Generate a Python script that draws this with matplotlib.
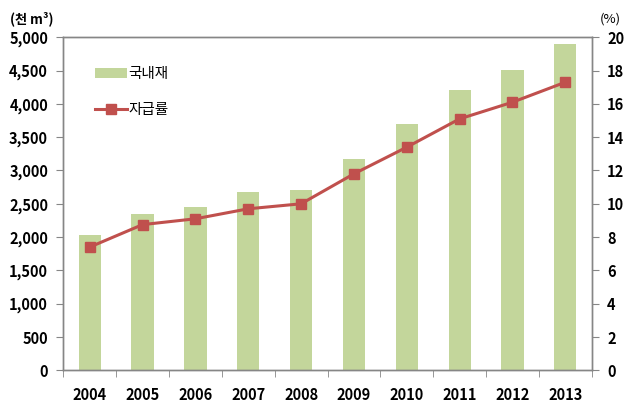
import matplotlib
matplotlib.use("Agg")
import matplotlib.pyplot as plt
import numpy as np
from matplotlib.ticker import FuncFormatter, FixedLocator

plt.rcParams['font.family'] = ['Noto Sans CJK KR', 'DejaVu Sans']

years = ["2004", "2005", "2006", "2007", "2008", "2009", "2010", "2011", "2012", "2013"]
domestic = [2025, 2340, 2445, 2670, 2700, 3170, 3705, 4205, 4505, 4895]
self_rate = [7.4, 8.75, 9.1, 9.7, 10.0, 11.8, 13.4, 15.1, 16.1, 17.3]

bar_color = "#C3D69B"
line_color = "#C0504D"
spine_color = "#868686"

fig = plt.figure(figsize=(6.37, 4.18), dpi=100)
ax = fig.add_axes([0.0994, 0.1141, 0.8295, 0.7967])
ax2 = ax.twinx()

x = np.arange(len(years))
ax.bar(x, domestic, width=0.42, color=bar_color, label="국내재", zorder=2)
ax2.plot(x, self_rate, color=line_color, lw=2.2, marker="s", markersize=7.5,
         label="자급률", zorder=3)

ax.set_xlim(-0.5, len(years) - 0.5)
ax.set_ylim(0, 5000)
ax2.set_ylim(0, 20)
ax.set_yticks(np.arange(0, 5001, 500))
ax2.set_yticks(np.arange(0, 21, 2))
ax.yaxis.set_major_formatter(FuncFormatter(lambda v, p: f"{int(v):,}"))

ax.set_xticks(x)
ax.set_xticklabels(years)
ax.xaxis.set_minor_locator(FixedLocator(np.arange(-0.5, len(years), 1)))
ax.tick_params(axis="x", which="major", length=0, pad=12)
ax.tick_params(axis="x", which="minor", length=5, color=spine_color, direction="out")
ax.tick_params(axis="y", length=5, color=spine_color, direction="out", pad=6)
ax2.tick_params(axis="y", length=5, color=spine_color, direction="out", pad=6)

for a in (ax, ax2):
    for s in a.spines.values():
        s.set_color(spine_color)
        s.set_linewidth(1.0)
    for lab in a.get_xticklabels() + a.get_yticklabels():
        lab.set_fontsize(10.5)
        lab.set_fontweight("bold")

# legend with both series
h1, l1 = ax.get_legend_handles_labels()
h2, l2 = ax2.get_legend_handles_labels()
leg = ax2.legend(h1 + h2, l1 + l2, loc="upper left", bbox_to_anchor=(0.035, 0.95),
                 frameon=False, fontsize=10.5, handlelength=2.2, labelspacing=1.5,
                 handletextpad=0.1)

fig.text(0.015, 0.955, "(천 m³)", fontsize=9.5, fontweight="bold", ha="left", va="center")
fig.text(0.942, 0.955, "(%)", fontsize=9.5, ha="left", va="center")

fig.savefig("out.png", dpi=100)
